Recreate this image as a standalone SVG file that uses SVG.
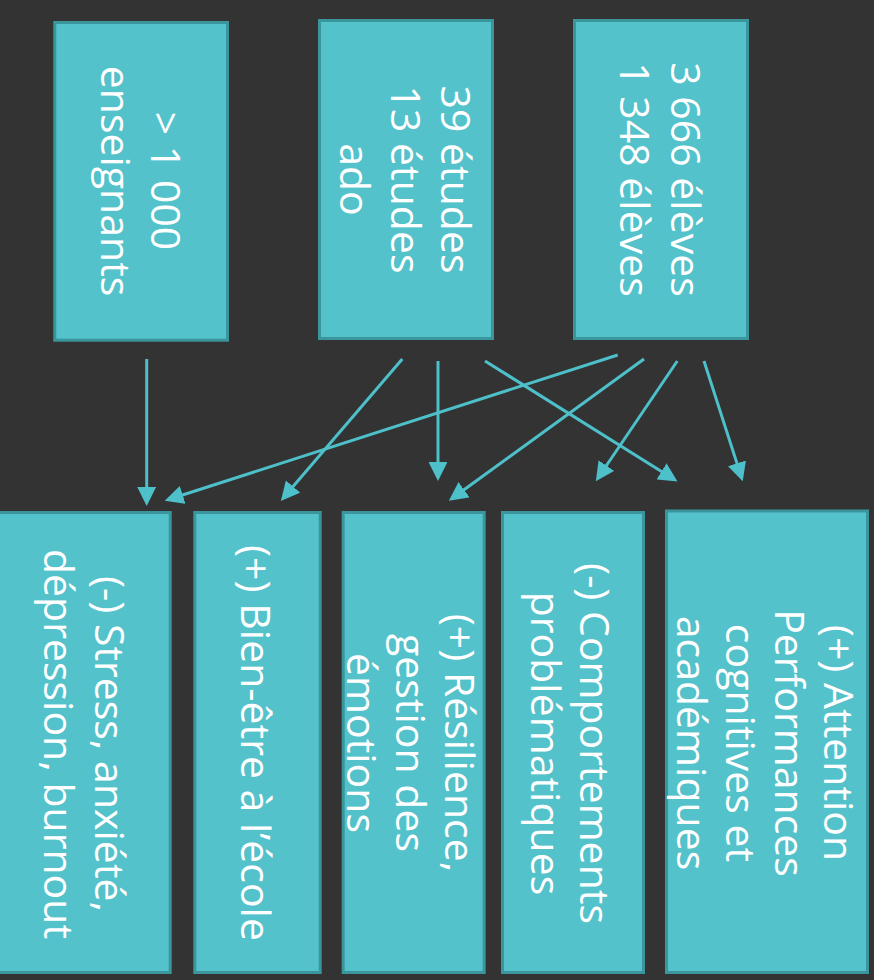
<svg xmlns="http://www.w3.org/2000/svg" width="874" height="980" viewBox="0 0 874 980">
<style>
.box{fill:#54C2CB;stroke:#3A969C;stroke-width:3}
.t{font-family:"Open Sans","Noto Sans","DejaVu Sans",sans-serif;font-size:41px;font-weight:400;fill:#FFFFFF;text-anchor:middle}
.c{stroke:#4DC0C9;stroke-width:3;fill:none;marker-end:url(#ah)}
</style>
<defs>
<marker id="ah" viewBox="0 0 10 10" refX="7" refY="5" markerWidth="6.3" markerHeight="6.3" orient="auto" markerUnits="strokeWidth">
<path d="M0,0 L10,5 L0,10 z" fill="#4DC0C9"/>
</marker>
</defs>
<rect x="0" y="0" width="874" height="980" fill="#333333"/>
<g id="n-enseignants">
<rect class="box" x="54.8" y="22.5" width="172.7" height="317.7"/>
<text class="t" transform="translate(151,181) rotate(90)">&gt; 1 000</text>
<text class="t" transform="translate(101,181) rotate(90)">enseignants</text>
</g>
<g id="n-etudes">
<rect class="box" x="319.5" y="20.5" width="173" height="318"/>
<text class="t" transform="translate(441,179.5) rotate(90)">39 études</text>
<text class="t" transform="translate(390.5,179.5) rotate(90)">13 études</text>
<text class="t" transform="translate(340,179.5) rotate(90)">ado</text>
</g>
<g id="n-eleves">
<rect class="box" x="574.5" y="20.5" width="173" height="318"/>
<text class="t" transform="translate(671,179.5) rotate(90)">3 666 élèves</text>
<text class="t" transform="translate(620,179.5) rotate(90)">1 348 élèves</text>
</g>
<g id="n-stress">
<rect class="box" x="-10" y="512.5" width="180.2" height="460"/>
<text class="t" transform="translate(95,744) rotate(90)">(-) Stress, anxiété,</text>
<text class="t" transform="translate(44,744) rotate(90)">dépression, burnout</text>
</g>
<g id="n-bienetre">
<rect class="box" x="194.8" y="512.5" width="125.4" height="460"/>
<text class="t" transform="translate(241,743) rotate(90)">(+) Bien-être à l’école</text>
</g>
<g id="n-resilience">
<rect class="box" x="343.2" y="512.5" width="141" height="460"/>
<text class="t" transform="translate(445,743) rotate(90)">(+) Résilience,</text>
<text class="t" transform="translate(396,743) rotate(90)">gestion des</text>
<text class="t" transform="translate(347,743) rotate(90)">émotions</text>
</g>
<g id="n-comportements">
<rect class="box" x="502.5" y="512.5" width="141" height="460"/>
<text class="t" transform="translate(580,743.5) rotate(90)">(-) Comportements</text>
<text class="t" transform="translate(531,743.5) rotate(90)">problématiques</text>
</g>
<g id="n-attention">
<rect class="box" x="666.5" y="511" width="201" height="461.5"/>
<text class="t" transform="translate(824,743) rotate(90)">(+) Attention</text>
<text class="t" transform="translate(775,743) rotate(90)">Performances</text>
<text class="t" transform="translate(726,743) rotate(90)">cognitives et</text>
<text class="t" transform="translate(677,743) rotate(90)">académiques</text>
</g>
<g id="connectors">
<path class="c" d="M146.7,359 L146.7,500.3"/>
<path class="c" d="M402.3,359 L284.5,496.6"/>
<path class="c" d="M617.7,355 L170.1,499"/>
<path class="c" d="M438,361 L438,475.3"/>
<path class="c" d="M485,361 L672.7,478.4"/>
<path class="c" d="M644,359 L453.4,497.5"/>
<path class="c" d="M677.3,361 L599,476.5"/>
<path class="c" d="M704,361 L741,475.9"/>
</g>
</svg>
